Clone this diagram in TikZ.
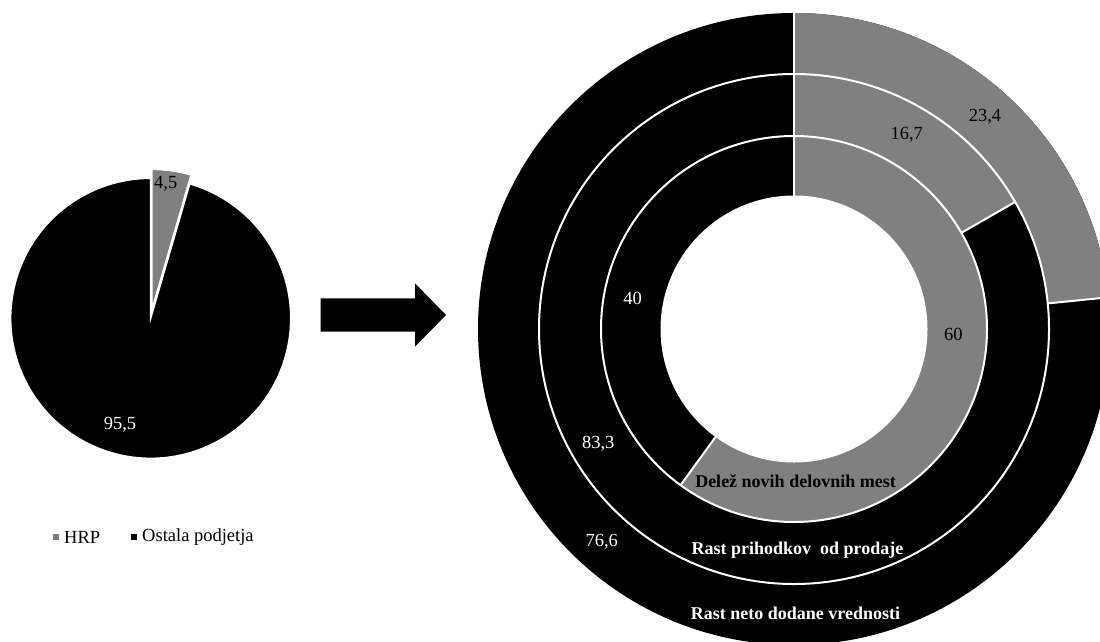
\documentclass[tikz,border=0pt]{standalone}
\usepackage{fontspec}
\setmainfont{Liberation Serif}
\definecolor{pgray}{HTML}{808080}
\tikzset{
  lbl/.style={font=\fontsize{18.5}{20}\selectfont, inner sep=0pt},
  blbl/.style={font=\fontsize{18}{20}\selectfont\bfseries, inner sep=0pt},
  sep/.style={draw=white, line width=2pt},
}
\begin{document}
\begin{tikzpicture}[x=1pt,y=1pt]
\useasboundingbox (0,0) rectangle (1100,-641);
\clip (0,0) rectangle (1100,-641);
% ---------- left pie ----------
\begin{scope}[shift={(150.7,-318.3)}]
  \filldraw[fill=black, draw=white, line width=1.5pt] (0,0) -- (73.8:140) arc[start angle=73.8, end angle=-270, radius=140] -- cycle;
  \begin{scope}[shift={(81.9:9)}]
    \filldraw[fill=pgray, draw=white, line width=1.5pt] (0,0) -- (90:140) arc[start angle=90, end angle=73.8, radius=140] -- cycle;
  \end{scope}
\end{scope}
\node[lbl, text=black] (p45) at (165.7,-184.3) {4,5};
\node[lbl, text=white] (p955) at (120,-425) {95,5};
% legend
\fill[pgray] (53,-534) rectangle (59,-540);
\node[lbl, anchor=west] (lhrp) at (64,-537) {HRP};
\fill[black] (131,-534) rectangle (137,-540);
\node[lbl, anchor=west] (lost) at (142,-537) {Ostala podjetja};
% ---------- arrow ----------
\fill[black] (320.7,-298.3) -- (415,-298.3) -- (415,-283.3) -- (446,-315) -- (415,-346.7) -- (415,-331.7) -- (320.7,-331.7) -- cycle;
% ---------- donut ----------
\begin{scope}[shift={(794,-329)}]
  \fill[black] (0,0) circle[radius=316];
  \fill[pgray] (0,0) -- (90:316) arc[start angle=90, end angle=5.76, radius=316] -- cycle;
  \fill[black] (0,0) circle[radius=255];
  \fill[pgray] (0,0) -- (90:255) arc[start angle=90, end angle=29.88, radius=255] -- cycle;
  \fill[black] (0,0) circle[radius=193];
  \fill[pgray] (0,0) -- (90:193) arc[start angle=90, end angle=-126, radius=193] -- cycle;
  \fill[white] (0,0) circle[radius=132.5];
  \draw[sep] (0,0) circle[radius=255];
  \draw[sep] (0,0) circle[radius=193];
  \draw[sep] (0,0) circle[radius=132.5];
  \draw[sep] (90:132.5) -- (90:317);
  \draw[sep] (-126:132.5) -- (-126:193);
  \draw[sep] (29.88:193) -- (29.88:255);
  \draw[sep] (5.76:255) -- (5.76:317);
\end{scope}
\node[lbl, text=black] (d234) at (985,-116.7) {23,4};
\node[lbl, text=black] (d167) at (906.7,-135) {16,7};
\node[lbl, text=white] (d40) at (632.7,-298.3) {40};
\node[lbl, text=black] (d60) at (953.3,-334.3) {60};
\node[lbl, text=white] (d833) at (598.3,-444) {83,3};
\node[lbl, text=white] (d766) at (601.7,-541.7) {76,6};
\node[blbl, text=black] (t1) at (795.5,-481.5) {Delež novih delovnih mest};
\node[blbl, text=white] (t2) at (797.5,-550) {Rast prihodkov\ \ od prodaje};
\node[blbl, text=white] (t3) at (795.5,-613) {Rast neto dodane vrednosti};
\end{tikzpicture}
\end{document}
